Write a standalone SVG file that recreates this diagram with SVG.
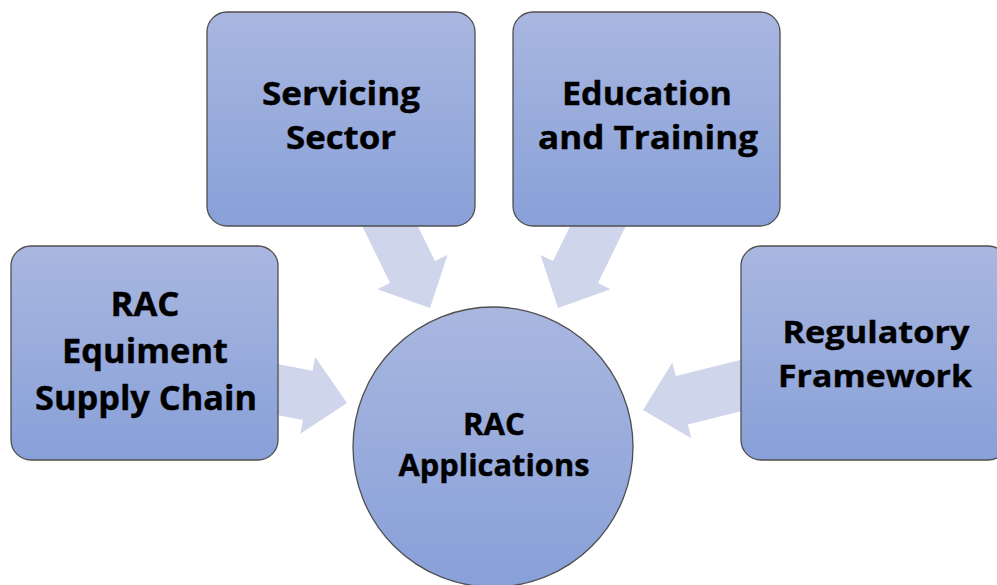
<svg xmlns="http://www.w3.org/2000/svg" width="997" height="585" viewBox="0 0 997 585">
  <defs>
    <linearGradient id="fillBlue" x1="0" y1="0" x2="0" y2="1">
      <stop offset="0" stop-color="#a9b7e0"/>
      <stop offset="1" stop-color="#88a0d8"/>
    </linearGradient>
    <!-- block arrow pointing along +x, tip at the origin -->
    <polygon id="blockArrow" points="-120,-25 -40,-25 -40,-39 0,0 -40,39 -40,25 -120,25"/>
  </defs>
  <style>
    .shape { fill: url(#fillBlue); stroke: #4f4f4f; stroke-width: 1.3; }
    .arrow { fill: #cfd5ea; }
    .label { font-family: "Open Sans", "Liberation Sans", sans-serif; font-weight: bold; fill: #000; stroke: #000; stroke-width: 0.4; text-anchor: middle; }
  </style>

  <!-- connectors: wide arrows into the centre circle -->
  <g id="connectors">
    <use href="#blockArrow" class="arrow" transform="translate(347,403) rotate(11)"/>
    <use href="#blockArrow" class="arrow" transform="translate(430,308) rotate(64)"/>
    <use href="#blockArrow" class="arrow" transform="translate(558,308) rotate(116)"/>
    <use href="#blockArrow" class="arrow" transform="translate(643,410) rotate(166)"/>
  </g>

  <g id="servicing">
    <rect class="shape" x="207" y="12" width="268" height="214" rx="20"/>
    <text class="label" font-size="33" x="341" y="105" textLength="158" lengthAdjust="spacingAndGlyphs">Servicing</text>
    <text class="label" font-size="33" x="341" y="149" textLength="110" lengthAdjust="spacingAndGlyphs">Sector</text>
  </g>

  <g id="education">
    <rect class="shape" x="513" y="12" width="267" height="214" rx="20"/>
    <text class="label" font-size="33" x="647" y="105" textLength="170" lengthAdjust="spacingAndGlyphs">Education</text>
    <text class="label" font-size="33" x="648" y="149" textLength="220" lengthAdjust="spacingAndGlyphs">and Training</text>
  </g>

  <g id="supply-chain">
    <rect class="shape" x="11" y="246" width="267" height="214" rx="20"/>
    <text class="label" font-size="34" x="145" y="316" textLength="69" lengthAdjust="spacingAndGlyphs">RAC</text>
    <text class="label" font-size="34" x="145" y="363" textLength="166" lengthAdjust="spacingAndGlyphs">Equiment</text>
    <text class="label" font-size="34" x="146" y="410" textLength="222" lengthAdjust="spacingAndGlyphs">Supply Chain</text>
  </g>

  <g id="regulatory">
    <rect class="shape" x="741" y="246" width="267" height="214" rx="20"/>
    <text class="label" font-size="31" x="876" y="343" textLength="187" lengthAdjust="spacingAndGlyphs">Regulatory</text>
    <text class="label" font-size="31" x="875" y="387" textLength="194" lengthAdjust="spacingAndGlyphs">Framework</text>
  </g>

  <g id="rac-applications">
    <circle class="shape" cx="493" cy="447" r="140"/>
    <text class="label" font-size="30" x="494" y="435" textLength="62" lengthAdjust="spacingAndGlyphs">RAC</text>
    <text class="label" font-size="30" x="494" y="476" textLength="191" lengthAdjust="spacingAndGlyphs">Applications</text>
  </g>
</svg>
